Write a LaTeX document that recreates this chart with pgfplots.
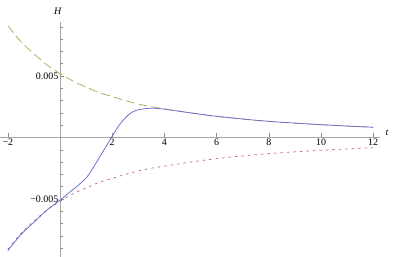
\documentclass[border=0pt]{standalone}
\usepackage{fontspec}
\setmainfont{Liberation Serif}
\usepackage{pgfplots}
\pgfplotsset{compat=1.18}
\definecolor{cblue}{rgb}{0.42,0.42,0.80}
\definecolor{cpink}{rgb}{0.78,0.40,0.62}
\definecolor{cgold}{rgb}{0.72,0.66,0.38}
\begin{document}
\fontsize{10}{12}\selectfont
\begin{tikzpicture}
\useasboundingbox (0,0) rectangle (395bp,257bp);
\begin{axis}[
  at={(0,0)}, anchor=south west,
  scale only axis, width=380bp, height=235bp,
  axis lines=middle,
  axis line style={draw=black!35, line width=0.7bp, -},
  xmin=-2.3, xmax=12.26, ymin=-0.00972, ymax=0.00939,
  xtick={-2,2,4,6,8,10,12},
  xticklabels={−2,2,4,6,8,10,12},
  minor x tick num=3,
  ytick={-0.005,0.005},
  yticklabels={−0.005,0.005},
  minor ytick={-0.009,-0.008,-0.007,-0.006,-0.004,-0.003,-0.002,-0.001,0.001,0.002,0.003,0.004,0.006,0.007,0.008,0.009},
  scaled y ticks=false,
  tick align=inside,
  major tick length=4bp, minor tick length=2.5bp,
  tick style={draw=black!45, line width=0.5bp},
  xticklabel style={font=\fontsize{10}{12}\selectfont, inner sep=1.5bp},
  yticklabel style={font=\fontsize{10}{12}\selectfont, inner sep=1.5bp},
  xlabel={\textit{t}}, ylabel={\textit{H}},
  xlabel style={at={(current axis.right of origin)}, anchor=west, xshift=2bp, yshift=5bp},
  ylabel style={at={(current axis.above origin)}, anchor=south, xshift=-2bp, yshift=4bp},
  clip=false,
]
\addplot[cgold, line width=0.75bp, dash pattern=on 9bp off 4bp, smooth] coordinates {
(-2,0.0091) (-1.5,0.0078) (-1,0.0068) (-0.5,0.0059) (0,0.0052) (0.5,0.00458) (1,0.0041) (1.5,0.00365) (2,0.00333) (2.5,0.0030) (3,0.00272) (3.5,0.0025) (4,0.00233) (5,0.0020) (6,0.00172) (7,0.0015) (8,0.00131) (9,0.00117) (10,0.00104) (11,0.00093) (12,0.00083)};
\addplot[cpink, line width=0.75bp, dash pattern=on 2.5bp off 4bp, smooth] coordinates {
(-2,-0.0091) (-1.5,-0.0078) (-1,-0.0068) (-0.5,-0.0059) (0,-0.0052) (0.5,-0.00458) (1,-0.0041) (1.5,-0.00365) (2,-0.00333) (2.5,-0.0030) (3,-0.00272) (3.5,-0.0025) (4,-0.00233) (5,-0.0020) (6,-0.00172) (7,-0.0015) (8,-0.00131) (9,-0.00117) (10,-0.00104) (11,-0.00093) (12,-0.00083)};
\addplot[cblue, line width=0.75bp, smooth] coordinates {
(-2,-0.0092) (-1.5,-0.0079) (-1,-0.0069) (-0.5,-0.0059) (0,-0.0051) (0.4,-0.0044) (0.8,-0.0037) (1.0,-0.0033) (1.2,-0.0027) (1.4,-0.0020) (1.6,-0.0013) (1.8,-0.0006) (2.0,0.0001) (2.2,0.0008) (2.4,0.00135) (2.6,0.0018) (2.8,0.0021) (3.0,0.00225) (3.3,0.00235) (3.6,0.00238) (4,0.0023) (4.5,0.00215) (5,0.0020) (6,0.00172) (7,0.0015) (8,0.00131) (9,0.00117) (10,0.00104) (11,0.00093) (12,0.00083)};
\end{axis}
\end{tikzpicture}
\end{document}
